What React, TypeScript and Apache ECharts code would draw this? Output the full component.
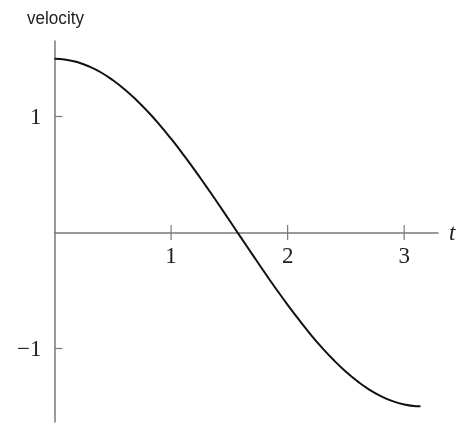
import React, { useEffect, useRef } from "react";
import * as echarts from "echarts";

const timeValues = [0, 0.1, 0.2, 0.3, 0.4, 0.5, 0.6, 0.7, 0.8, 0.9, 1.0, 1.1, 1.2, 1.3, 1.4, 1.5, 1.6, 1.7, 1.8, 1.9, 2.0, 2.1, 2.2, 2.3, 2.4, 2.5, 2.6, 2.7, 2.8, 2.9, 3.0, 3.1, 3.14];
const velocityValues = [1.5, 1.493, 1.47, 1.433, 1.382, 1.316, 1.238, 1.147, 1.045, 0.932, 0.81, 0.68, 0.544, 0.401, 0.255, 0.106, -0.044, -0.193, -0.341, -0.485, -0.624, -0.757, -0.883, -1.0, -1.106, -1.202, -1.285, -1.356, -1.413, -1.456, -1.485, -1.499, -1.5];
const xTickValues = [1, 2, 3];
const yTickValues = [-1, 1];

const AXIS_COLOR = "#7a7a7a";
const TEXT_COLOR = "#222222";
const SERIF = "'Liberation Serif', 'DejaVu Serif', serif";

export default function App() {
  const ref = useRef<HTMLDivElement>(null);
  useEffect(() => {
    if (!ref.current) return;
    const chart = echarts.init(ref.current, undefined, { renderer: "svg" });
    const data = timeValues.map((t, i) => [t, velocityValues[i]]);
    chart.setOption({
      animation: false,
      grid: { left: 54.5, right: 22, top: 41, bottom: 1, containLabel: false, outerBoundsMode: "none" },
      graphic: [
        {
          type: "text",
          x: 55.5,
          y: 17.5,
          scaleX: 0.9,
          style: {
            text: "velocity",
            font: "19px 'Liberation Sans', Arial, sans-serif",
            fill: TEXT_COLOR,
            textAlign: "center",
            textVerticalAlign: "middle",
          },
        },
      ],
      xAxis: {
        type: "value",
        min: 0,
        max: 3.29,
        axisLine: { onZero: true, lineStyle: { color: AXIS_COLOR, width: 1.5 } },
        axisTick: { show: false },
        axisLabel: { show: false },
        splitLine: { show: false },
        name: "t",
        nameLocation: "end",
        nameGap: 11,
        nameTextStyle: { fontFamily: SERIF, fontStyle: "italic", fontSize: 23, color: TEXT_COLOR, verticalAlign: "middle" },
      },
      yAxis: {
        type: "value",
        min: -1.636,
        max: 1.654,
        axisLine: { onZero: false, lineStyle: { color: AXIS_COLOR, width: 1.5 } },
        axisTick: { show: true, inside: true, length: 8, customValues: yTickValues, lineStyle: { color: AXIS_COLOR, width: 1.2 } },
        axisLabel: {
          show: true,
          customValues: yTickValues,
          margin: 13,
          fontFamily: SERIF,
          fontSize: 23,
          color: TEXT_COLOR,
          formatter: (v: number) => (v < 0 ? "\u2212" + Math.abs(v) : String(v)),
        },
        splitLine: { show: false },
      },
      series: [
        {
          type: "line",
          data,
          smooth: true,
          showSymbol: false,
          symbol: "none",
          lineStyle: { color: "#111", width: 2 },
          z: 3,
        },
        {
          type: "scatter",
          data: xTickValues.map((t) => [t, 0]),
          symbol: "rect",
          symbolSize: [1.2, 15],
          itemStyle: { color: AXIS_COLOR, opacity: 1 },
          silent: true,
          z: 2,
          label: {
            show: true,
            position: "bottom",
            distance: 4,
            formatter: (p: any) => "{d|" + p.value[0] + "}",
            rich: {
              d: { fontFamily: SERIF, fontSize: 23, color: TEXT_COLOR, opacity: 1 },
            },
          },
        },
      ],
    });
    return () => chart.dispose();
  }, []);
  return <div ref={ref} style={{ position: "fixed", left: 0, top: 0, width: 460, height: 423 }} />;
}
